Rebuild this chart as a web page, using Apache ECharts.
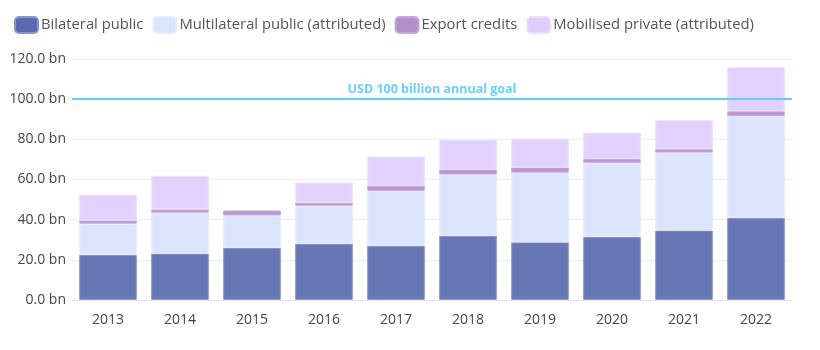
<!DOCTYPE html>
<html>
<head>
<meta charset="utf-8">
<script src="https://cdn.jsdelivr.net/npm/echarts@6/dist/echarts.min.js"></script>
<style>
    html, body { margin: 0; padding: 0; background: #fff; }
    #chart { width: 820px; height: 350px; }
</style>
</head>
<body>
<div id="chart"></div>
<script>
/**
 * DATA (USD billion)
 */
var years = ['2013', '2014', '2015', '2016', '2017', '2018', '2019', '2020', '2021', '2022'];
var bilateralPublic = [22.5, 23.1, 25.9, 28.0, 27.0, 32.0, 28.7, 31.4, 34.6, 41.0];
var multilateralPublic = [15.5, 20.4, 16.2, 18.9, 27.3, 30.5, 34.7, 36.9, 38.8, 50.6];
var exportCredits = [1.6, 1.6, 2.5, 1.5, 2.6, 2.5, 2.6, 1.9, 1.7, 2.4];
var mobilisedPrivate = [12.8, 16.7, null, 10.1, 14.5, 14.7, 14.4, 13.1, 14.4, 21.9];
var goalValue = 100;
var goalLabel = 'USD 100 billion annual goal';

/**
 * CHART
 */
var chart = echarts.init(document.getElementById('chart'));
var font = "'Open Sans', sans-serif";

function barSeries(name, data, color, border) {
    return {
        name: name,
        type: 'bar',
        stack: 'total',
        barCategoryGap: '20%',
        data: data,
        itemStyle: {
            color: color,
            borderColor: border,
            borderWidth: 1
        },
        emphasis: {disabled: true}
    };
}

var series = [
    barSeries('Bilateral public', bilateralPublic, '#6877b5', '#8a96c8'),
    barSeries('Multilateral public (attributed)', multilateralPublic, '#dde5fd', '#e6ecfd'),
    barSeries('Export credits', exportCredits, '#b898d0', '#c3a9d8'),
    barSeries('Mobilised private (attributed)', mobilisedPrivate, '#e2d0fd', '#ebdffd')
];

series[0].markLine = {
    symbol: 'none',
    silent: true,
    lineStyle: {color: '#62cdf7', width: 2, type: 'solid'},
    label: {
        position: 'middle',
        formatter: goalLabel,
        color: '#6ad0fb',
        fontFamily: font,
        fontWeight: 'bold',
        fontSize: 12.5,
        distance: 3
    },
    data: [{yAxis: goalValue}]
};

chart.setOption({
    animation: false,
    textStyle: {fontFamily: font},
    legend: {
        left: 9,
        top: 11,
        itemWidth: 23,
        itemHeight: 16,
        itemGap: 9,
        icon: 'roundRect',
        textStyle: {color: '#555', fontSize: 14.8, fontWeight: 500, fontFamily: font, padding: [0, 0, 0, -2]},
        data: [
            {name: 'Bilateral public', itemStyle: {color: '#5b6ab0'}},
            {name: 'Multilateral public (attributed)', itemStyle: {color: '#d9e4ff'}},
            {name: 'Export credits', itemStyle: {color: '#b08fcc'}},
            {name: 'Mobilised private (attributed)', itemStyle: {color: '#dfcdff'}}
        ]
    },
    grid: {left: 72, right: 28, top: 59, bottom: 50},
    xAxis: {
        type: 'category',
        data: years,
        axisTick: {show: false},
        axisLine: {lineStyle: {color: '#e6e6e6'}},
        axisLabel: {color: '#444', fontSize: 14, fontWeight: 500, margin: 13}
    },
    yAxis: {
        type: 'value',
        min: 0,
        max: 120,
        interval: 20,
        axisLabel: {
            color: '#444',
            fontSize: 14,
            fontWeight: 500,
            margin: 6,
            formatter: function (v) { return v.toFixed(1) + ' bn'; }
        },
        splitLine: {lineStyle: {color: '#ececec'}}
    },
    series: series
});
</script>
</body>
</html>
